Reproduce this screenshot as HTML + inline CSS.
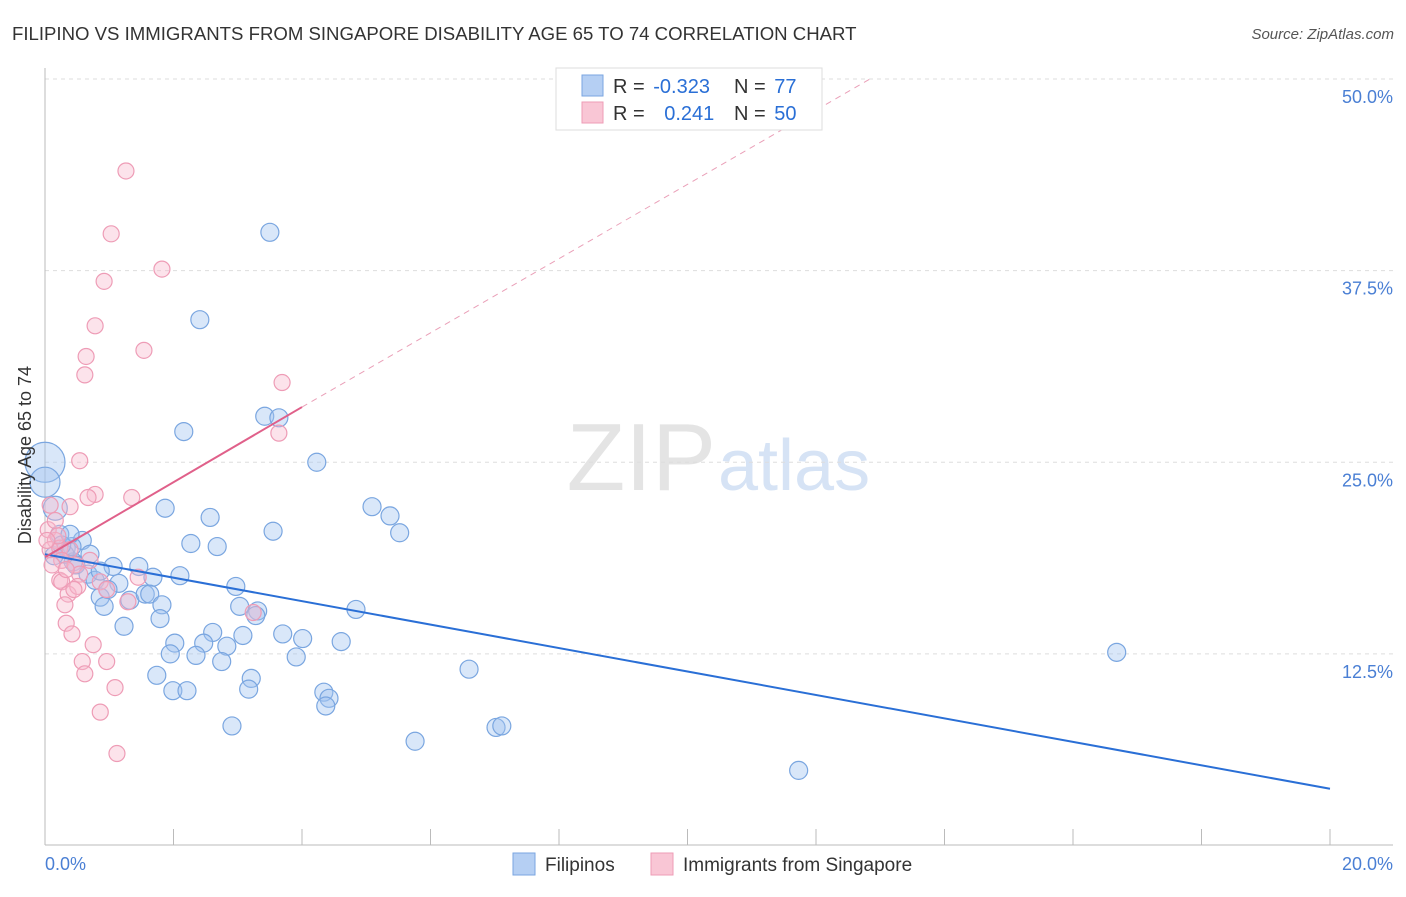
<!DOCTYPE html>
<html><head><meta charset="utf-8"><style>
body{margin:0;background:#fff;font-family:"Liberation Sans",sans-serif;}
svg text{font-family:"Liberation Sans",sans-serif;}
</style></head><body>
<svg id="chart" width="1406" height="892">
<text x="12" y="40" font-size="18.6" fill="#333">FILIPINO VS IMMIGRANTS FROM SINGAPORE DISABILITY AGE 65 TO 74 CORRELATION CHART</text>
<text x="1394" y="39" font-size="15" fill="#555" font-style="italic" text-anchor="end">Source: ZipAtlas.com</text>
<text x="716" y="490" font-size="96" fill="#e4e4e4" text-anchor="end" font-family="Liberation Serif">ZIP</text>
<text x="718" y="490" font-size="72" fill="#d6e3f5">atlas</text>
<g id="grid"></g><g id="axes"></g><g id="marks"></g>
<text transform="translate(31,455) rotate(-90)" font-size="18" fill="#333" text-anchor="middle">Disability Age 65 to 74</text>
<g>
<rect x="556" y="68" width="266" height="62" fill="#fff" stroke="#ddd"/>
<rect x="582" y="75" width="21" height="21" fill="#b5cff3" stroke="#7aa6e0"/>
<rect x="582" y="102" width="21" height="21" fill="#f9c6d5" stroke="#ee9cb6"/>
<text x="613" y="93" font-size="20" fill="#333">R = <tspan fill="#2a6fd6" dx="3">-0.323</tspan></text>
<text x="734" y="93" font-size="20" fill="#333">N = <tspan fill="#2a6fd6" dx="3">77</tspan></text>
<text x="613" y="120" font-size="20" fill="#333">R = <tspan fill="#2a6fd6" dx="14">0.241</tspan></text>
<text x="734" y="120" font-size="20" fill="#333">N = <tspan fill="#2a6fd6" dx="3">50</tspan></text>
</g>
<g>
<rect x="513" y="853" width="22" height="22" fill="#b5cff3" stroke="#7aa6e0"/>
<text x="545" y="871" font-size="19" fill="#333">Filipinos</text>
<rect x="651" y="853" width="22" height="22" fill="#f9c6d5" stroke="#ee9cb6"/>
<text x="683" y="871" font-size="19" fill="#333">Immigrants from Singapore</text>
</g>
</svg>
<script>
const yTicks=[12.5,25,37.5,50];
const yTickLabels=["12.5%","25.0%","37.5%","50.0%"];
const xTickLabels=["0.0%","20.0%"];
const blueX=[3.50,2.41,2.16,3.42,3.64,4.23,1.87,2.57,2.27,2.68,3.55,5.09,5.37,5.52,0.58,0.70,1.06,1.46,1.68,2.10,2.97,1.15,0.86,0.92,1.32,1.56,1.63,1.82,3.03,3.31,3.28,4.84,1.23,1.79,2.61,3.08,2.02,2.47,2.83,3.70,4.01,4.61,1.95,2.35,2.75,3.91,1.74,1.99,2.21,3.21,3.17,4.34,4.42,4.37,6.60,2.91,5.76,7.02,7.11,11.73,16.68,0,0,0.16,0.23,0.33,0.44,0.48,0.31,0.67,0.78,0.98,0.14,0.42,0.26,0.86,0.39];
const blueY=[40.0,34.3,27.0,28.0,27.9,25.0,22.0,21.4,19.7,19.5,20.5,22.1,21.5,20.4,19.9,19.0,18.2,18.2,17.5,17.6,16.9,17.1,16.2,15.6,16.0,16.4,16.4,15.7,15.6,15.3,15.0,15.4,14.3,14.8,13.9,13.7,13.2,13.2,13.0,13.8,13.5,13.3,12.5,12.4,12.0,12.3,11.1,10.1,10.1,10.9,10.2,10.0,9.6,9.1,11.5,7.8,6.8,7.7,7.8,4.9,12.6,25.0,23.7,22.0,20.3,19.4,18.5,18.3,19.0,17.7,17.3,16.7,18.9,19.5,19.6,17.9,20.3];
const pinkX=[1.26,1.03,1.82,0.92,0.78,0.64,1.54,0.62,3.69,3.64,0.54,0.78,1.35,0.39,0.67,0.08,0.05,0.16,0.08,0.23,0.39,0.26,0.47,0.54,0.86,0.23,0.26,0.36,0.31,0.51,0.96,1.29,1.45,0.33,0.42,0.75,0.58,0.96,0.62,1.09,0.86,1.12,3.24,0.16,0.20,0.03,0.70,0.11,0.33,0.45];
const pinkY=[44.0,39.9,37.6,36.8,33.9,31.9,32.3,30.7,30.2,26.9,25.1,22.9,22.7,22.1,22.7,22.2,20.6,19.9,19.3,19.4,19.3,18.6,18.3,17.7,17.2,17.3,17.2,16.4,15.7,16.9,16.7,15.9,17.5,14.5,13.8,13.1,12.0,12.0,11.2,10.3,8.7,6.0,15.2,21.2,20.2,19.9,18.6,18.3,18.0,16.7];
const blueTrend=[19.0,3.7];
const pinkTrend=[18.8,28.6];
const pinkDashEnd=[12.84,50.0];

const NS="http://www.w3.org/2000/svg";
const X0=45,X1=1330,Y0=845.5,Y50=79;
const sx=v=>X0+(X1-X0)*v/20;
const sy=v=>Y0-(Y0-Y50)*v/50;
function mk(tag,attrs,parent){const e=document.createElementNS(NS,tag);for(const k in attrs)e.setAttribute(k,attrs[k]);parent.appendChild(e);return e;}
const grid=document.getElementById('grid'),axes=document.getElementById('axes'),marks=document.getElementById('marks');
yTicks.forEach((t,i)=>{
 const l=mk('line',{x1:X0,x2:1393,y1:sy(t),y2:sy(t),stroke:'#ddd','stroke-dasharray':'4,4'},grid);
 
 
 const tx=mk('text',{x:1393,y:sy(t)+24,'font-size':18,fill:'#4a7fd4','text-anchor':'end'},grid);
 tx.textContent=yTickLabels[i];
 
 
});
const ax=mk('line',{x1:X0,x2:1393,y1:845,y2:845,stroke:'#bbb'},axes);


const ay=mk('line',{x1:X0,x2:X0,y1:68,y2:845,stroke:'#bbb'},axes);


for(let i=0;i<=10;i++){
 const t=mk('line',{x1:sx(i*2),x2:sx(i*2),y1:829,y2:845,stroke:'#bbb'},axes);
 
 
}
const xl0=mk('text',{x:45,y:870,'font-size':18,fill:'#4a7fd4'},axes);
xl0.textContent=xTickLabels[0];


const xl1=mk('text',{x:1393,y:870,'font-size':18,fill:'#4a7fd4','text-anchor':'end'},axes);
xl1.textContent=xTickLabels[1];



blueX.forEach((v,i)=>{
 let r=9; if(i===61) r=20; else if(i===62) r=15; else if(i===63) r=12;
 const c=mk('circle',{cx:sx(v),cy:sy(blueY[i]),r:r,fill:'rgba(160,196,240,0.4)',stroke:'#7aa6e0','stroke-width':1.2},marks);
 
 
});
pinkX.forEach((v,i)=>{
 const c=mk('circle',{cx:sx(v),cy:sy(pinkY[i]),r:8,fill:'rgba(248,185,205,0.4)',stroke:'#ee9cb6','stroke-width':1.2},marks);
 
 
});
const bl=mk('line',{x1:sx(0),y1:sy(blueTrend[0]),x2:sx(20),y2:sy(blueTrend[1]),stroke:'#2a6fd6','stroke-width':2},marks);


const pd=mk('line',{x1:sx(4),y1:sy(pinkTrend[1]),x2:sx(pinkDashEnd[0]),y2:sy(pinkDashEnd[1]),stroke:'#eaa0b8','stroke-width':1,'stroke-dasharray':'6,5'},marks);


const pl=mk('line',{x1:sx(0),y1:sy(pinkTrend[0]),x2:sx(4),y2:sy(pinkTrend[1]),stroke:'#e0608a','stroke-width':2},marks);


</script>
</body></html>
